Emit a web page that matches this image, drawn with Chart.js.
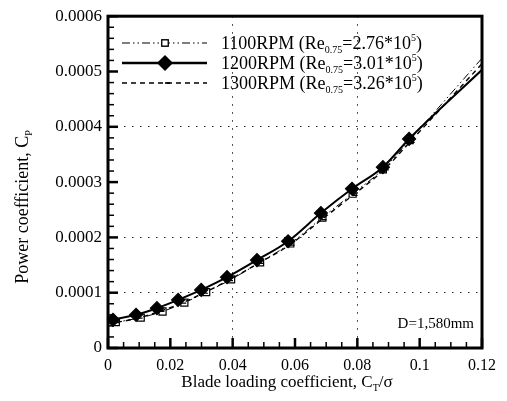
<!DOCTYPE html>
<html>
<head>
<meta charset="utf-8">
<script src="https://cdn.jsdelivr.net/npm/chart.js@4/dist/chart.umd.min.js"></script>
<style>
  html, body { margin: 0; padding: 0; background: #fff; }
  #wrap { width: 507px; height: 401px; }
</style>
</head>
<body>
<div id="wrap"><canvas id="c" width="507" height="401"></canvas></div>
<script>
// Blade loading coefficient (C_T / sigma) and power coefficient C_P, per rotor speed
const ctSigma1100 = [0.0025, 0.0105, 0.0175, 0.0245, 0.0315, 0.0395, 0.0488, 0.0585, 0.0688, 0.0785, 0.0882, 0.0968];
const cp1100      = [0.000047, 0.000055, 0.000066, 0.000082, 0.000101, 0.000124, 0.000155, 0.000189, 0.000236, 0.000279, 0.000323, 0.000376];

const ctSigma1200 = [0.0016, 0.0090, 0.0157, 0.0225, 0.0299, 0.0382, 0.0478, 0.0578, 0.0683, 0.0783, 0.0882, 0.0966];
const cp1200      = [0.000051, 0.000060, 0.000072, 0.000087, 0.000105, 0.000128, 0.000159, 0.000193, 0.000244, 0.000288, 0.000327, 0.000378];

const ctSigma1300 = [0.0020, 0.0095, 0.0165, 0.0235, 0.0305, 0.0385, 0.0482, 0.0582, 0.0685, 0.0785, 0.0885, 0.0968];
const cp1300      = [0.000046, 0.000054, 0.000066, 0.000081, 0.000099, 0.000122, 0.000153, 0.000186, 0.000232, 0.000276, 0.000322, 0.000372];

// Fitted curves: C_P at C_T/sigma = 0 and at 0.12 (ends of each trend line)
const curveEnds1100 = [0.000046, 0.000524];
const curveEnds1200 = [0.000048, 0.000503];
const curveEnds1300 = [0.000045, 0.000514];

const seriesNames = ['1100RPM (Re', '1200RPM (Re', '1300RPM (Re'];
const reynolds    = ['2.76', '3.01', '3.26'];

const xTickValues = [0, 0.02, 0.04, 0.06, 0.08, 0.1, 0.12];
const xTickLabels = ['0', '0.02', '0.04', '0.06', '0.08', '0.1', '0.12'];
const yTickValues = [0, 0.0001, 0.0002, 0.0003, 0.0004, 0.0005, 0.0006];
const yTickLabels = ['0', '0.0001', '0.0002', '0.0003', '0.0004', '0.0005', '0.0006'];
const xGridValues = [0.04, 0.08];
const yGridValues = [0.0001, 0.0002, 0.0004];

const SERIF = '"Liberation Serif", "Times New Roman", serif';

function curve(xs, ys, ends) {
  const pts = [{ x: 0, y: ends[0] }];
  xs.forEach((x, i) => pts.push({ x: x, y: ys[i] }));
  pts.push({ x: 0.12, y: ends[1] });
  return pts;
}
function radii(n, r) {
  const a = [0];
  for (let i = 0; i < n; i++) a.push(r);
  a.push(0);
  return a;
}
function onList(list, v) {
  return list.some(g => Math.abs(g - v) < 1e-9);
}

const series = [
  { dash: [8, 3, 1.5, 3, 1.5, 3], width: 1, style: 'rect', fill: '#fff', radius: 5 },
  { dash: [], width: 2, style: 'rectRot', fill: '#000', radius: 6.5 },
  { dash: [5, 4], width: 1.4, style: 'dash', fill: '#000', radius: 5 }
];

const datasets = [
  {
    label: '1100RPM',
    data: curve(ctSigma1100, cp1100, curveEnds1100),
    pointRadius: radii(cp1100.length, series[0].radius),
    order: 2
  },
  {
    label: '1200RPM',
    data: curve(ctSigma1200, cp1200, curveEnds1200),
    pointRadius: radii(cp1200.length, series[1].radius),
    order: 0
  },
  {
    label: '1300RPM',
    data: curve(ctSigma1300, cp1300, curveEnds1300),
    pointRadius: radii(cp1300.length, series[2].radius),
    order: 1
  }
].map((d, i) => Object.assign(d, {
  showLine: true,
  borderColor: '#000',
  borderWidth: series[i].width,
  borderDash: series[i].dash,
  cubicInterpolationMode: 'monotone',
  pointStyle: series[i].style,
  pointBackgroundColor: series[i].fill,
  pointBorderColor: '#000',
  pointBorderWidth: 1.2,
  pointHoverRadius: 0
}));

// Draws a run of text pieces; pieces may be raised or lowered
function richText(ctx, x, y, pieces) {
  let cx = x;
  pieces.forEach(p => {
    ctx.font = p.size + 'px ' + SERIF;
    ctx.fillText(p.t, cx, y + (p.dy || 0));
    cx += ctx.measureText(p.t).width;
  });
  return cx;
}
function richWidth(ctx, pieces) {
  let w = 0;
  pieces.forEach(p => { ctx.font = p.size + 'px ' + SERIF; w += ctx.measureText(p.t).width; });
  return w;
}

const decor = {
  id: 'decor',
  afterDraw(chart) {
    const ctx = chart.ctx;
    const a = chart.chartArea;
    const xs = chart.scales.x, ys = chart.scales.y;
    ctx.save();
    ctx.strokeStyle = '#000';
    ctx.fillStyle = '#000';
    ctx.setLineDash([]);

    // inward ticks on the left and bottom axes
    ctx.lineCap = 'butt';
    for (let k = 0; k <= 24; k++) {
      const v = k * 0.005;
      const major = k % 4 === 0;
      const px = xs.getPixelForValue(v);
      ctx.lineWidth = major ? 2.5 : 1.5;
      ctx.beginPath();
      ctx.moveTo(px, a.bottom);
      ctx.lineTo(px, a.bottom - (major ? 10 : 6));
      ctx.stroke();
    }
    for (let k = 0; k <= 30; k++) {
      const v = k * 0.00002;
      const major = k % 5 === 0;
      const py = ys.getPixelForValue(v);
      ctx.lineWidth = major ? 2.5 : 1.5;
      ctx.beginPath();
      ctx.moveTo(a.left, py);
      ctx.lineTo(a.left + (major ? 10 : 6), py);
      ctx.stroke();
    }

    // frame
    ctx.lineWidth = 3;
    ctx.strokeRect(a.left, a.top, a.right - a.left, a.bottom - a.top);

    // legend
    const rowY = [43, 63, 83];
    const lx0 = 122, lx1 = 207, mx = 165, tx = 221;
    series.forEach((s, i) => {
      const y = rowY[i];
      ctx.lineWidth = i === 1 ? 2.5 : (i === 0 ? 1.2 : 1.6);
      ctx.setLineDash(s.dash);
      ctx.beginPath();
      ctx.moveTo(lx0, y);
      ctx.lineTo(lx1, y);
      ctx.stroke();
      ctx.setLineDash([]);
      ctx.lineWidth = 1.2;
      Chart.helpers.drawPoint(ctx, {
        pointStyle: s.style, radius: s.style === 'rectRot' ? 7 : (s.style === 'rect' ? 4.5 : 5), rotation: 0, borderWidth: 1.2
      }, mx, y);
      ctx.fillStyle = s.fill;
      if (s.style !== 'dash') ctx.fill();
      ctx.stroke();
      ctx.fillStyle = '#000';
      ctx.textBaseline = 'alphabetic';
      ctx.textAlign = 'left';
      richText(ctx, tx, y + 6, [
        { t: seriesNames[i], size: 18 },
        { t: '0.75', size: 10, dy: 4 },
        { t: '=' + reynolds[i] + '*10', size: 18 },
        { t: '5', size: 10, dy: -8 },
        { t: ')', size: 18 }
      ]);
    });

    // rotor diameter note
    ctx.textAlign = 'right';
    ctx.font = '15px ' + SERIF;
    ctx.fillText('D=1,580mm', 474, 328);

    // x-axis title
    ctx.textAlign = 'left';
    const xt = [
      { t: 'Blade loading coefficient, C', size: 17 },
      { t: 'T', size: 10, dy: 4 },
      { t: '/σ', size: 17 }
    ];
    const xw = richWidth(ctx, xt);
    richText(ctx, 287 - xw / 2, 387, xt);

    // y-axis title
    const yt = [
      { t: 'Power coefficient, C', size: 18 },
      { t: 'P', size: 10, dy: 4 }
    ];
    const yw = richWidth(ctx, yt);
    ctx.translate(28, 207);
    ctx.rotate(-Math.PI / 2);
    richText(ctx, -yw / 2, 0, yt);
    ctx.restore();
  }
};

new Chart(document.getElementById('c'), {
  type: 'scatter',
  data: { datasets: datasets },
  options: {
    responsive: false,
    animation: false,
    devicePixelRatio: 1,
    layout: { padding: { top: 16, right: 25, left: 0, bottom: 0 } },
    plugins: { legend: { display: false }, tooltip: { enabled: false } },
    scales: {
      x: {
        type: 'linear', min: 0, max: 0.12,
        afterBuildTicks: s => { s.ticks = xTickValues.map(v => ({ value: v })); },
        afterFit: s => { s.height = 53; },
        ticks: {
          callback: (v, i) => xTickLabels[i],
          font: { family: SERIF, size: 16 },
          color: '#000',
          padding: 8,
          maxRotation: 0,
          autoSkip: false
        },
        grid: {
          drawTicks: false,
          color: c => (c.tick && onList(xGridValues, c.tick.value)) ? '#222' : 'rgba(0,0,0,0)',
          lineWidth: 1
        },
        border: { display: false, dash: [1.5, 6.5] }
      },
      y: {
        type: 'linear', min: 0, max: 0.0006,
        afterBuildTicks: s => { s.ticks = yTickValues.map(v => ({ value: v })); },
        afterFit: s => { s.width = 108; },
        ticks: {
          callback: (v, i) => yTickLabels[i],
          font: { family: SERIF, size: 17 },
          color: '#000',
          padding: 6,
          autoSkip: false
        },
        grid: {
          drawTicks: false,
          color: c => (c.tick && onList(yGridValues, c.tick.value)) ? '#222' : 'rgba(0,0,0,0)',
          lineWidth: 1
        },
        border: { display: false, dash: [1.5, 6.5] }
      }
    }
  },
  plugins: [decor]
});
</script>
</body>
</html>
